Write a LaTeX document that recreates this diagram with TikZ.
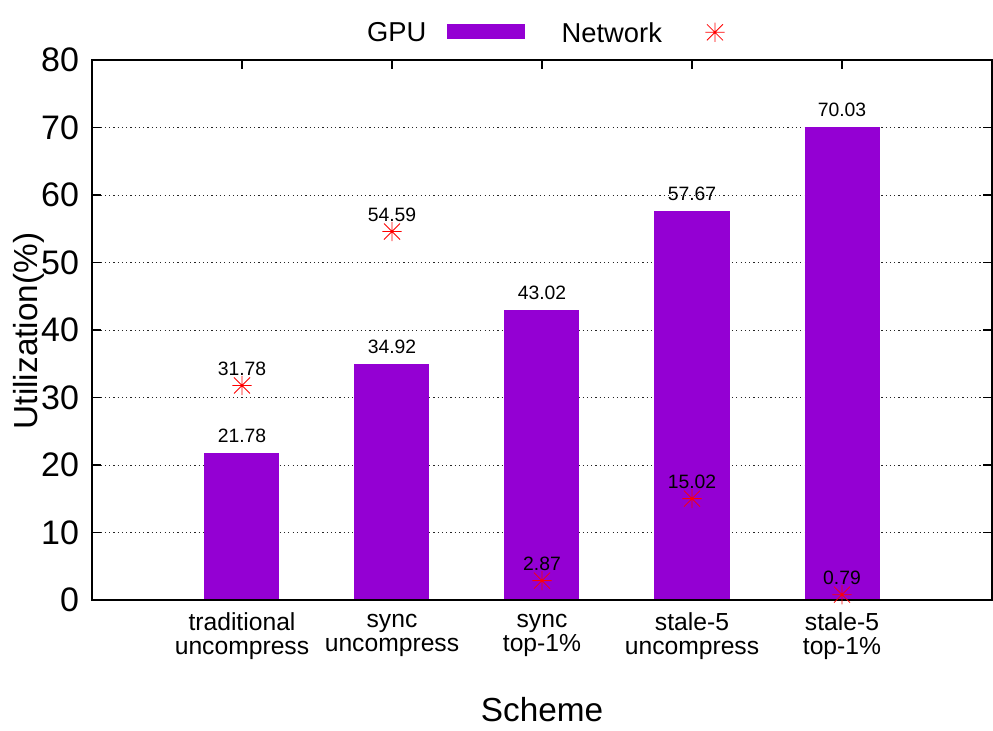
\documentclass[tikz,border=0pt]{standalone}
\usepackage{fontspec}
\setmainfont{Liberation Sans}
\definecolor{gpuviolet}{HTML}{9400D3}
\tikzset{gpubar/.style={fill=gpuviolet, draw=none},
 gridline/.style={draw=black!85, line width=0.7pt, dash pattern=on 0.9pt off 2.3pt},
 plotframe/.style={line width=1.4pt},
 ticmark/.style={line width=0.8pt},
 valuelabel/.style={font=\fontsize{14.5}{16}\selectfont, yshift=12.75pt},
 ticklabel/.style={font=\fontsize{25.5}{28}\selectfont, anchor=east},
 catlabel/.style={font=\fontsize{18.5}{18}\selectfont, align=center},
 legendtext/.style={font=\fontsize{20.5}{22}\selectfont},
 axistitle/.style={font=\fontsize{25}{28}\selectfont},
 netmark/.pic={\draw[red, line width=0.6pt] (-7.2pt,0) -- (7.2pt,0) (0,-7.2pt) -- (0,7.2pt)
   (-6pt,-6pt) -- (6pt,6pt) (-6pt,6pt) -- (6pt,-6pt);},
 }

\begin{document}
\begin{tikzpicture}[x=112.5pt, y=5.0625pt]
        \useasboundingbox (-0.6133,-19.407) rectangle (6.0067,88.889);
        % grid
        \foreach \v in {10,20,...,70} {
            \draw[gridline] (0,\v) -- (6,\v);
        }
        % GPU bars
        \foreach \v[count=\i] in {21.78,34.92,43.02,57.67,70.03} {
            \fill[gpubar] (\i-.25,0) rectangle (\i+.25,\v);
        }
        % frame and tics
        \draw[plotframe] (0,0) rectangle (6,80);
        \foreach \v in {0,10,...,80} {
            \draw[ticmark] (0,\v) -- (0.06,\v);
            \draw[ticmark] (6,\v) -- (5.94,\v);
            \node[ticklabel] (ytic\v) at (-0.055,\v) {\v};
        }
        \foreach \i in {1,...,5} {
            \draw[ticmark] (\i,80) -- (\i,78.67);
        }
        % network points
        \foreach \v[count=\i] in {31.78,54.59,2.87,15.02,0.79} {
            \pic at (\i,\v) {netmark};
        }
        % value labels
        \foreach \v[count=\i] in {21.78,34.92,43.02,57.67,70.03} {
            \node[valuelabel] (gpu\i) at (\i,\v) {\v};
        }
        \foreach \v[count=\i] in {31.78,54.59,2.87,15.02,0.79} {
            \node[valuelabel] (net\i) at (\i,\v) {\v};
        }
        % scheme names
        \foreach \t[count=\i] in {traditional\\uncompress, sync\\uncompress, sync\\top-1\%,
            stale-5\\uncompress, stale-5\\top-1\%} {
            \node[catlabel] (cat\i) at (\i,-5.3) {\t};
        }
        % titles
        \node[axistitle] (xtitle) at (3,-16.3) {Scheme};
        \node[axistitle, rotate=90] (ytitle) at (-0.42,39.85) {Utilization(\%)};
        % legend
        \node[legendtext, anchor=east] (gpukey) at (2.26,84.1) {GPU};
        \fill[gpubar] (2.3667,83.11) rectangle (2.8867,85.33);
        \node[legendtext, anchor=west] (netkey) at (3.1,84.1) {Network};
        \pic at (4.1533,84.1) {netmark};
    \end{tikzpicture}
\end{document}
